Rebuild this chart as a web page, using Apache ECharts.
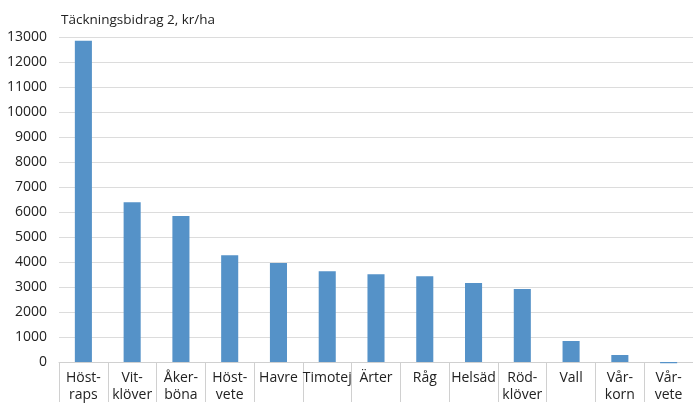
<!DOCTYPE html>
<html>
<head>
<meta charset="utf-8">
<script src="https://cdn.jsdelivr.net/npm/echarts@6/dist/echarts.min.js"></script>
<style>
html,body{margin:0;padding:0;background:#fff;}
#c{width:693px;height:404px;}
</style>
</head>
<body>
<div id="c"></div>
<script>
const categories = ["Höst-\nraps","Vit-\nklöver","Åker-\nböna","Höst-\nvete","Havre","Timotej","Ärter","Råg","Helsäd","Röd-\nklöver","Vall","Vår-\nkorn","Vår-\nvete"];
const values = [12850, 6390, 5845, 4275, 3960, 3630, 3510, 3430, 3160, 2920, 840, 280, -50];
const titleText = "Täckningsbidrag 2, kr/ha";

const chart = echarts.init(document.getElementById('c'));
const font = "'Open Sans', 'Noto Sans', sans-serif";
chart.setOption({
  animation: false,
  title: {
    text: titleText,
    left: 56, top: 8,
    textStyle: {fontFamily: font, fontSize: 13.5, fontWeight: 'normal', color: '#222'}
  },
  grid: {left: 59, right: -3, top: 37, bottom: 37, containLabel: false},
  xAxis: {
    type: 'category',
    data: categories,
    axisLine: {lineStyle: {color: '#d0d0d0'}},
    axisTick: {show: true, length: 40, lineStyle: {color: '#d0d0d0'}},
    axisLabel: {interval: 0, fontFamily: font, fontSize: 14, color: '#222', lineHeight: 17, margin: 8}
  },
  yAxis: {
    type: 'value',
    min: 0, max: 13000, interval: 1000,
    axisLine: {show: false},
    axisTick: {show: false},
    splitLine: {lineStyle: {color: '#dcdcdc', width: 1}},
    axisLabel: {fontFamily: font, fontSize: 14, color: '#222', margin: 12, formatter: v => String(v)}
  },
  series: [{
    type: 'bar',
    data: values,
    barWidth: '35%',
    clip: false,
    itemStyle: {color: '#5592c8'}
  }]
});
</script>
</body>
</html>
